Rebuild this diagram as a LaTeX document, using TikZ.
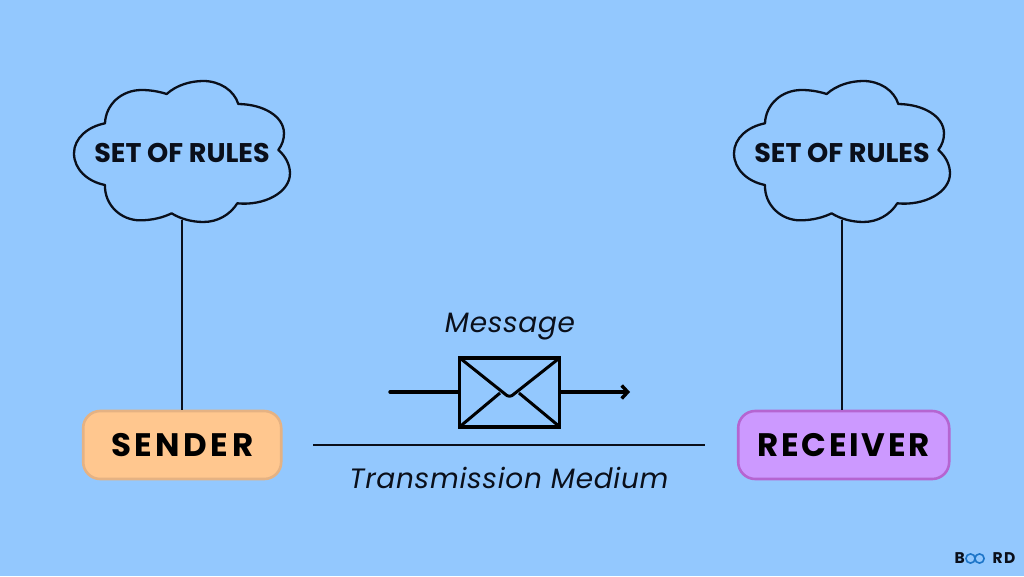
\documentclass[tikz,border=0pt]{standalone}
\usepackage{fontspec}
\setmainfont{Poppins}
\usetikzlibrary{arrows.meta}
\definecolor{bgblue}{HTML}{93C8FE}
\definecolor{ink}{HTML}{0A0F1A}
\definecolor{sendfill}{HTML}{FFC78F}
\definecolor{senddraw}{HTML}{E5B283}
\definecolor{recvfill}{HTML}{CC99FF}
\definecolor{recvdraw}{HTML}{B565D1}
\definecolor{logoblue}{HTML}{1C75C8}
\newfontfamily\spaced[LetterSpace=8.3]{Poppins}
\newfontfamily\spacedwide[LetterSpace=11]{Poppins}
\newfontfamily\medit[LetterSpace=2.5]{Poppins}
\newfontfamily\logofont[LetterSpace=8]{Poppins}
\tikzset{
  cloudline/.style={draw=ink,line width=2.3pt,line join=round},
  cloudtext/.style={font=\bfseries\fontsize{27}{31}\selectfont,text=ink,inner sep=0pt},
  party/.style={rounded corners=17pt,line width=2.6pt,minimum height=68pt,inner sep=0pt,
     font=\spaced\bfseries\fontsize{32.5}{38}\selectfont,text=black},
  stem/.style={draw=ink,line width=2pt},
  caption/.style={font=\medit\itshape\fontsize{28}{32}\selectfont,text=ink,inner sep=0pt},
  mailline/.style={draw=black,line width=3.4pt,line cap=round,line join=round},
  fold/.style={draw=black,line width=3pt,line join=round},
  logotext/.style={font=\logofont\bfseries\fontsize{15.5}{17}\selectfont,text=ink,inner sep=0pt},
}
\newcommand{\cloudat}[3]{%
  \begin{scope}[shift={(#1,#2)},x=0.3333pt,y=-0.3333pt]
    \draw[cloudline] (320,72) .. controls (350,45) and (392,33) .. (430,33)
      .. controls (478,33) and (522,60) .. (535,102)
      .. controls (612,103) and (672,140) .. (672,190)
      .. controls (672,210) and (666,225) .. (655,240)
      .. controls (677,258) and (690,285) .. (690,310)
      .. controls (690,368) and (612,408) .. (532,400)
      .. controls (510,435) and (472,456) .. (430,456)
      .. controls (395,456) and (360,446) .. (335,430)
      .. controls (310,442) and (278,451) .. (240,451)
      .. controls (183,451) and (133,405) .. (135,345)
      .. controls (83,335) and (42,298) .. (42,250)
      .. controls (42,205) and (83,170) .. (135,160)
      .. controls (137,103) and (185,60) .. (245,60)
      .. controls (270,60) and (295,64) .. (320,72) -- cycle;
    \coordinate (#3) at (365,450);
  \end{scope}}
\begin{document}
\begin{tikzpicture}[x=1pt,y=-1pt]
  \useasboundingbox (0,0) rectangle (1024,576);
  \fill[bgblue] (0,0) rectangle (1024,576);

  \cloudat{60}{70}{cloudLfoot}
  \cloudat{720}{70}{cloudRfoot}
  \node[cloudtext] (rulesL) at (182,153) {SET OF RULES};
  \node[cloudtext] (rulesR) at (842,153) {SET OF RULES};

  \node[party,fill=sendfill,draw=senddraw,minimum width=198pt,font=\spacedwide\bfseries\fontsize{32.5}{38}\selectfont] (sender) at (182.2,445) {SENDER};
  \node[party,fill=recvfill,draw=recvdraw,minimum width=211pt] (receiver) at (843.7,445) {RECEIVER};

  \draw[stem] (cloudLfoot) -- (cloudLfoot |- sender.north);
  \draw[stem] (cloudRfoot) -- (cloudRfoot |- receiver.north);

  \node[caption] (message) at (510,327) {Message};
  \node[caption] (medium) at (509,478) {Transmission Medium};

  \coordinate (mediumL) at (313,445);
  \coordinate (mediumR) at (705,445);
  \draw[stem] (mediumL) -- (mediumR);

  \node[draw=black,line width=3.4pt,line join=miter,minimum width=100pt,minimum height=69pt,inner sep=0pt] (envelope) at (509.7,392.3) {};
  \coordinate (mailstart) at (390,392);
  \coordinate (mailend) at (630,392);
  \coordinate (foldNW) at ([shift={(2,2)}]envelope.north west);
  \coordinate (foldNE) at ([shift={(-2,2)}]envelope.north east);
  \coordinate (foldSW) at ([shift={(2,-2)}]envelope.south west);
  \coordinate (foldSE) at ([shift={(-2,-2)}]envelope.south east);
  \draw[mailline] (mailstart) -- (envelope.west |- mailstart);
  \draw[mailline,-{Straight Barb[length=6pt,width=13pt,line width=3.4pt]}] (envelope.east |- mailend) -- (mailend);
  \draw[fold] (foldNW) -- (505,394) .. controls (508,397) and (511,397) .. (514,394) -- (foldNE);
  \draw[fold] (foldSW) -- (500,393);
  \draw[fold] (foldSE) -- (519,393);

  % logo
  \node[logotext,anchor=west] (logoB) at (954.5,558.5) {B};
  \node[logotext,anchor=east] (logoRD) at (1015.5,558.5) {RD};
  \draw[logoblue,line width=1.6pt] (970.5,558.5) circle[radius=4.6pt];
  \draw[logoblue,line width=1.6pt] (979.5,558.5) circle[radius=4.6pt];
\end{tikzpicture}
\end{document}
